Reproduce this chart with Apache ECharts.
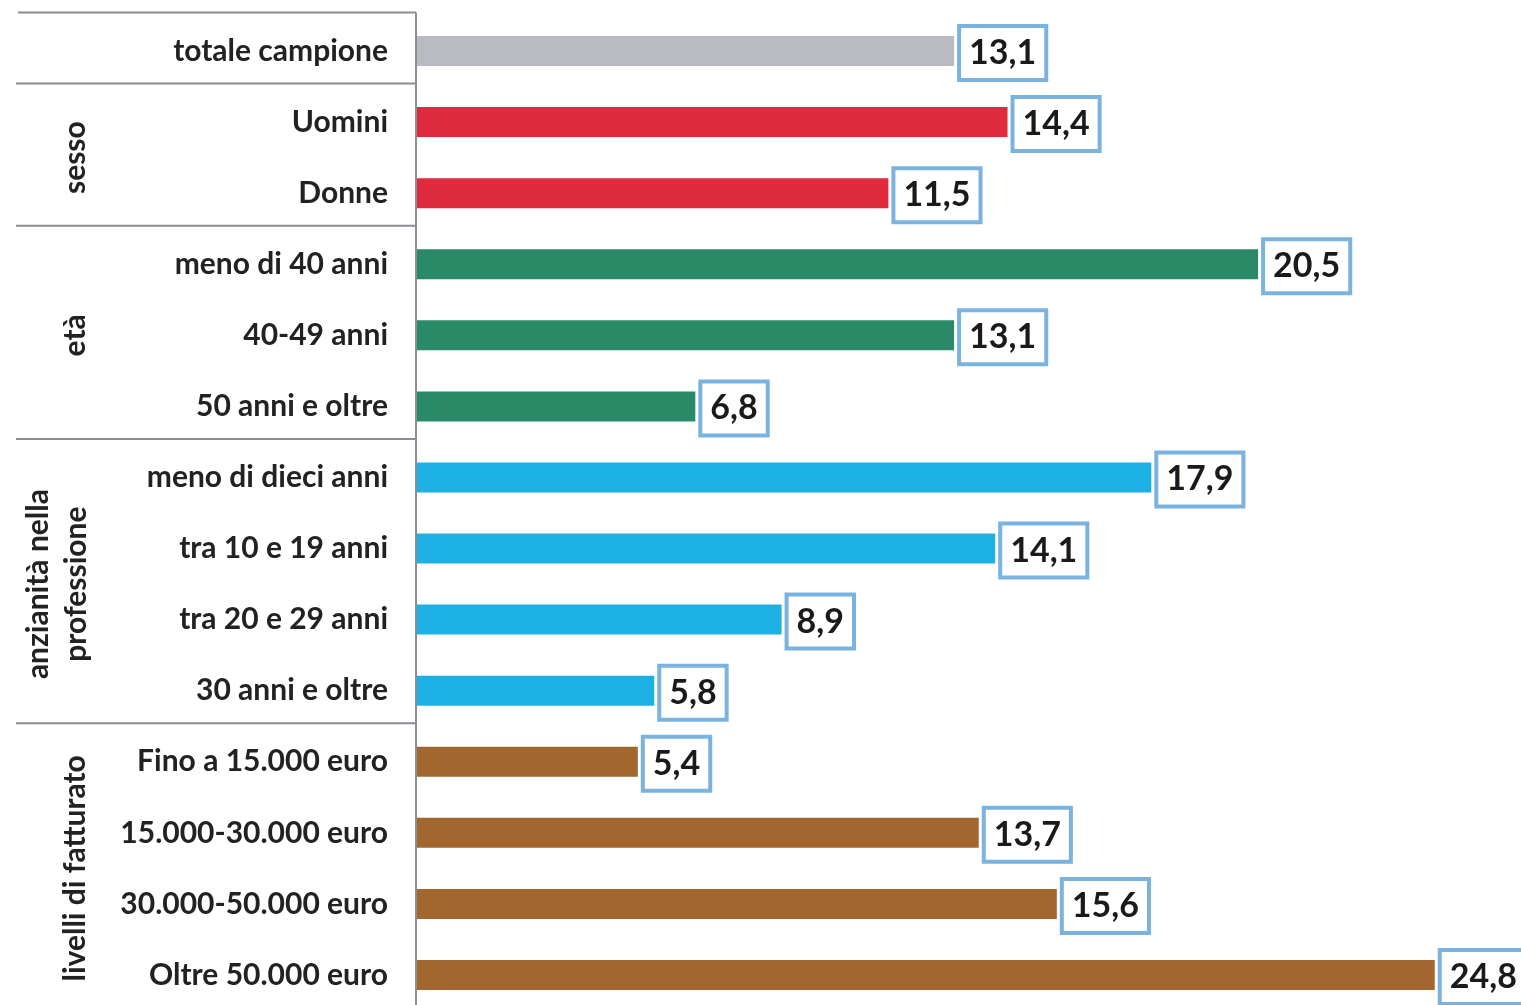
<!DOCTYPE html>
<html>
<head>
<meta charset="utf-8">
<script src="https://cdn.jsdelivr.net/npm/echarts@6/dist/echarts.min.js"></script>
<style>
html,body{margin:0;padding:0;background:#fff;}
#chart{width:1521px;height:1005px;}
</style>
</head>
<body>
<div id="chart"></div>
<script>
// ---- data ----
const categories = [
  'totale campione',
  'Uomini', 'Donne',
  'meno di 40 anni', '40-49 anni', '50 anni e oltre',
  'meno di dieci anni', 'tra 10 e 19 anni', 'tra 20 e 29 anni', '30 anni e oltre',
  'Fino a 15.000 euro', '15.000-30.000 euro', '30.000-50.000 euro', 'Oltre 50.000 euro'
];
const values = [13.1, 14.4, 11.5, 20.5, 13.1, 6.8, 17.9, 14.1, 8.9, 5.8, 5.4, 13.7, 15.6, 24.8];
const groupNames = ['', 'sesso', 'età', 'anzianità nella\nprofessione', 'livelli di fatturato'];
const groupSizes = [1, 2, 3, 4, 4];
const groupColors = ['#b9bac2', '#e02a3e', '#2a8a67', '#1cb0e4', '#a2672f'];

// ---- build ----
const barGroup = [];
groupSizes.forEach((n, g) => { for (let i = 0; i < n; i++) barGroup.push(g); });
const seriesData = values.map((v, i) => ({ value: v, itemStyle: { color: groupColors[barGroup[i]] } }));

const chart = echarts.init(document.getElementById('chart'));
const FONT = 'Lato, "Open Sans", sans-serif';
const LINE = '#8a8d92';

chart.setOption({
  animation: false,
  backgroundColor: '#ffffff',
  grid: { left: 416, right: 0, top: 51, height: 924, containLabel: false },
  xAxis: { type: 'value', min: 0, max: 26.9, show: false },
  yAxis: {
    type: 'category',
    inverse: true,
    boundaryGap: false,
    data: categories,
    axisLine: { show: false },
    axisTick: { show: false },
    splitLine: { show: false },
    axisLabel: { margin: 28, fontSize: 30, fontWeight: 'bold', color: '#222', fontFamily: FONT }
  },
  series: [{
    type: 'bar',
    data: seriesData,
    barWidth: 30,
    clip: false,
    label: {
      show: true,
      position: 'right',
      distance: 7,
      offset: [0, 2],
      formatter: p => String(p.value).replace('.', ','),
      fontSize: 34,
      fontWeight: 'bold',
      fontFamily: FONT,
      color: '#1a1a1a',
      backgroundColor: '#ffffff',
      borderColor: '#7ab3e0',
      borderWidth: 4,
      padding: [9, 8, 7, 8]
    }
  }]
});

// ---- axis line, group dividers and titles from axis positions ----
function drawGroups() {
  const graphics = [];
  const yOf = idx => chart.convertToPixel({ yAxisIndex: 0 }, idx);
  const band = yOf(1) - yOf(0);
  const axisX = chart.convertToPixel({ xAxisIndex: 0 }, 0);
  const topY = yOf(0) - band / 2 - 3;
  const bottomY = yOf(categories.length - 1) + band / 2;
  graphics.push({ type: 'line', z: 10, shape: { x1: axisX, y1: topY, x2: axisX, y2: bottomY },
    style: { stroke: LINE, lineWidth: 2 } });
  graphics.push({ type: 'line', shape: { x1: 18, y1: topY, x2: axisX, y2: topY },
    style: { stroke: LINE, lineWidth: 2 } });
  let start = 0;
  groupSizes.forEach((n, g) => {
    const end = start + n - 1;
    if (g < groupSizes.length - 1) {
      const yd = (yOf(end) + yOf(end + 1)) / 2 - 3;
      graphics.push({ type: 'line', shape: { x1: 16, y1: yd, x2: axisX, y2: yd },
        style: { stroke: LINE, lineWidth: 2 } });
    }
    if (groupNames[g]) {
      const yc = (yOf(start) + yOf(end)) / 2;
      const lines = groupNames[g].split('\n').length;
      graphics.push({
        type: 'text',
        x: lines > 1 ? 57 : 75,
        y: yc,
        rotation: Math.PI / 2,
        style: {
          text: groupNames[g],
          fontSize: 30,
          fontWeight: 'bold',
          fontFamily: FONT,
          fill: '#222',
          align: 'center',
          verticalAlign: 'middle',
          lineHeight: 38
        }
      });
    }
    start = end + 1;
  });
  chart.setOption({ graphic: graphics });
}
drawGroups();
</script>
</body>
</html>
